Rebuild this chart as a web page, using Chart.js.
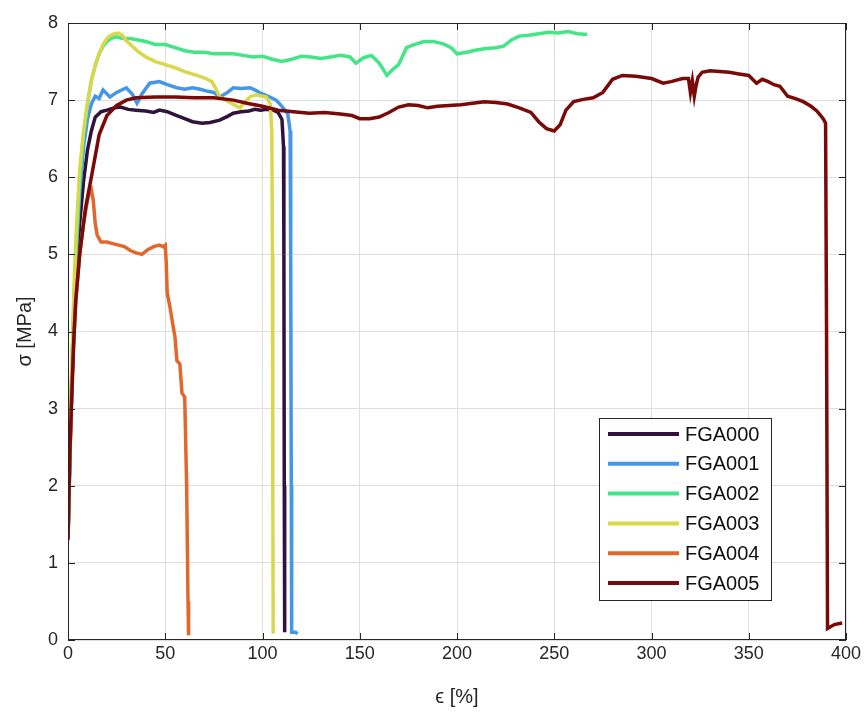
<!DOCTYPE html>
<html>
<head>
<meta charset="utf-8">
<title>FGA stress-strain</title>
<script src="https://cdn.jsdelivr.net/npm/chart.js@4.4.1/dist/chart.umd.min.js"></script>
<style>
  html, body { margin: 0; padding: 0; background: #fff; }
</style>
</head>
<body>
<canvas id="stressChart" width="867" height="713"></canvas>
<script>
// series names and colours
const seriesNames = ['FGA000', 'FGA001', 'FGA002', 'FGA003', 'FGA004', 'FGA005'];
const seriesColors = ['#30123b', '#4596e6', '#44e586', '#d9d74c', '#e2672c', '#7a0a0a'];

// strain [%] / stress [MPa]
const fga000X = [0, 1, 2, 3, 4, 6, 8, 10, 12, 14, 17, 20, 24, 27, 31, 35, 40, 44, 47, 51, 55, 60, 64, 69, 73, 78, 82, 85, 89, 93, 96, 99, 102, 105.5, 108, 110, 110.8, 111, 111.2, 111.4];
const fga000Y = [1.3, 2.4, 3.3, 4.0, 4.6, 5.4, 5.95, 6.35, 6.6, 6.78, 6.85, 6.87, 6.9, 6.91, 6.88, 6.87, 6.86, 6.84, 6.87, 6.85, 6.81, 6.76, 6.72, 6.7, 6.71, 6.74, 6.79, 6.83, 6.85, 6.86, 6.88, 6.87, 6.88, 6.87, 6.84, 6.75, 6.4, 5.0, 2.0, 0.1];

const fga001X = [0, 1, 2, 3, 4, 6, 8, 10, 12, 14, 16, 18, 21.6, 25, 30, 33, 35.5, 38, 42, 47, 51, 56, 60, 64, 68, 71, 75, 78, 82, 85, 89, 93.6, 97, 99, 103, 107, 110, 113, 114.2, 114.5, 114.8, 115, 117, 118];
const fga001Y = [1.3, 2.5, 3.5, 4.3, 4.9, 5.8, 6.4, 6.75, 6.95, 7.05, 7.02, 7.13, 7.04, 7.1, 7.16, 7.08, 6.96, 7.08, 7.22, 7.24, 7.2, 7.16, 7.14, 7.16, 7.14, 7.12, 7.1, 7.04, 7.1, 7.16, 7.15, 7.16, 7.12, 7.09, 7.05, 7.0, 6.92, 6.82, 6.6, 5.0, 2.0, 0.1, 0.1, 0.08];

const fga002X = [0, 1, 2, 3, 4, 6, 8, 10, 12, 14, 16, 18, 20, 22, 25, 28, 32, 36, 40, 45, 50, 55, 60, 65, 70, 75, 80, 85, 90, 95, 100, 105, 110, 115, 120, 125, 130, 135, 140, 145, 148, 152, 156, 160, 164, 167, 170, 174, 178, 183, 188, 193, 197, 200, 205, 210, 215, 220, 224, 228, 232, 237, 242, 247, 252, 257, 262, 267];
const fga002Y = [1.3, 2.5, 3.5, 4.3, 5.0, 5.95, 6.55, 6.95, 7.25, 7.45, 7.6, 7.7, 7.76, 7.8, 7.82, 7.8, 7.8, 7.78, 7.76, 7.72, 7.72, 7.68, 7.64, 7.62, 7.62, 7.6, 7.6, 7.6, 7.58, 7.56, 7.57, 7.53, 7.5, 7.53, 7.57, 7.56, 7.54, 7.56, 7.58, 7.56, 7.48, 7.55, 7.58, 7.48, 7.32, 7.4, 7.46, 7.68, 7.72, 7.76, 7.76, 7.73, 7.68, 7.6, 7.62, 7.65, 7.67, 7.68, 7.7, 7.78, 7.83, 7.84, 7.86, 7.88, 7.87, 7.89, 7.86, 7.85];

const fga003X = [0, 1, 2, 3, 4, 6, 8, 10, 12, 14, 16, 18, 20, 22, 24, 26, 28, 30, 33, 36, 40, 45, 50, 55, 60, 65, 70, 74, 76, 78, 81, 84, 86, 88.5, 91, 94, 97, 100, 102, 104, 104.8, 105.1, 105.3, 105.5];
const fga003Y = [1.3, 2.6, 3.6, 4.5, 5.2, 6.1, 6.6, 6.95, 7.25, 7.45, 7.6, 7.72, 7.8, 7.84, 7.86, 7.87, 7.84, 7.77, 7.7, 7.63, 7.56, 7.5, 7.46, 7.42, 7.37, 7.33, 7.29, 7.24, 7.15, 7.04, 7.0, 6.96, 6.93, 6.9, 6.98, 7.05, 7.07, 7.05, 7.04, 6.95, 6.6, 5.0, 2.0, 0.08];

const fga004X = [0, 1, 2, 3, 4, 6, 8, 10, 11, 12, 13, 14, 15, 17, 20, 23, 26, 29, 32, 35, 38, 41, 44, 47, 49, 50, 50.5, 51, 52.4, 53.5, 55, 56, 57.5, 58.6, 60, 61, 61.7, 62];
const fga004Y = [1.3, 2.4, 3.3, 3.9, 4.4, 5.0, 5.4, 5.7, 5.8, 5.84, 5.7, 5.4, 5.25, 5.16, 5.16, 5.14, 5.12, 5.1, 5.05, 5.02, 5.0, 5.06, 5.1, 5.12, 5.1, 5.12, 4.9, 4.5, 4.32, 4.15, 3.93, 3.62, 3.58, 3.2, 3.15, 2.0, 0.5, 0.06];

const fga005X = [0, 1, 2, 3, 4, 6, 9, 12, 16, 20, 25, 30, 35, 45, 55, 65, 75, 85, 92, 100, 108, 116, 124, 132, 140, 146, 150, 155, 160, 165, 170, 175, 180, 185, 190, 196, 202, 208, 214, 220, 226, 232, 238, 242, 246, 250, 253, 256, 260, 265, 270, 275, 280, 285, 292, 300, 306, 310, 316, 319, 320, 321, 322, 323, 324, 326, 330, 335, 340, 345, 350, 354, 357, 360, 363, 366, 370, 374, 378, 382, 385, 387, 388.5, 389.5, 390, 390.5, 394, 398];
const fga005Y = [1.3, 2.5, 3.2, 3.9, 4.4, 5.0, 5.6, 6.0, 6.55, 6.8, 6.93, 7.0, 7.03, 7.04, 7.04, 7.03, 7.03, 7.0, 6.96, 6.92, 6.87, 6.85, 6.83, 6.84, 6.82, 6.8, 6.76, 6.76, 6.78, 6.84, 6.91, 6.94, 6.93, 6.9, 6.92, 6.93, 6.94, 6.96, 6.98, 6.97, 6.95, 6.9, 6.84, 6.72, 6.63, 6.6, 6.68, 6.87, 6.98, 7.01, 7.03, 7.1, 7.27, 7.32, 7.31, 7.28, 7.22, 7.24, 7.28, 7.28, 7.1, 7.25, 7.05, 7.2, 7.3, 7.36, 7.38, 7.37, 7.36, 7.34, 7.32, 7.22, 7.27, 7.24, 7.2, 7.18, 7.05, 7.02, 6.98, 6.92, 6.86, 6.8, 6.75, 6.7, 4.0, 0.15, 0.2, 0.22];

// axis ticks
const xTicks = [0, 50, 100, 150, 200, 250, 300, 350, 400];
const yTicks = [0, 1, 2, 3, 4, 5, 6, 7, 8];

const allX = [fga000X, fga001X, fga002X, fga003X, fga004X, fga005X];
const allY = [fga000Y, fga001Y, fga002Y, fga003Y, fga004Y, fga005Y];

const axisColor = '#262626';
const fontFamily = '"Liberation Sans", Arial, sans-serif';

function toPoints(xs, ys) {
    return xs.map((x, i) => ({ x: x, y: ys[i] }));
}

const datasets = seriesNames.map((name, i) => ({
    label: name,
    data: toPoints(allX[i], allY[i]),
    borderColor: seriesColors[i],
    backgroundColor: seriesColors[i],
    borderWidth: 3.5,
    pointRadius: 0,
    tension: 0,
    fill: false,
    order: seriesNames.length - i // later series drawn on top
}));

// MATLAB style box, inward ticks and legend inside the axes
const frameAndLegend = {
    id: 'frameAndLegend',
    afterDatasetsDraw(chart) {
        const { ctx, chartArea: a, scales } = chart;
        ctx.save();
        ctx.strokeStyle = axisColor;
        ctx.lineWidth = 1;
        ctx.strokeRect(a.left + 0.5, a.top + 0.5, a.width - 1, a.height - 1);

        ctx.beginPath();
        xTicks.forEach(v => {
            const px = Math.round(scales.x.getPixelForValue(v)) + 0.5;
            ctx.moveTo(px, a.bottom); ctx.lineTo(px, a.bottom - 7);
            ctx.moveTo(px, a.top); ctx.lineTo(px, a.top + 7);
        });
        yTicks.forEach(v => {
            const py = Math.round(scales.y.getPixelForValue(v)) + 0.5;
            ctx.moveTo(a.left, py); ctx.lineTo(a.left + 7, py);
            ctx.moveTo(a.right, py); ctx.lineTo(a.right - 7, py);
        });
        ctx.stroke();

        // legend
        const boxLeft = a.right - 247;
        const boxTop = a.top + 395;
        const boxW = 172;
        const boxH = 182;
        ctx.fillStyle = '#ffffff';
        ctx.fillRect(boxLeft, boxTop, boxW, boxH);
        ctx.strokeRect(boxLeft + 0.5, boxTop + 0.5, boxW, boxH);
        ctx.font = '20px ' + fontFamily;
        ctx.textBaseline = 'middle';
        chart.data.datasets.forEach((ds, i) => {
            const y = boxTop + 16 + i * 29.8;
            ctx.strokeStyle = ds.borderColor;
            ctx.lineWidth = 4;
            ctx.beginPath();
            ctx.moveTo(boxLeft + 9, y);
            ctx.lineTo(boxLeft + 80, y);
            ctx.stroke();
            ctx.fillStyle = '#111111';
            ctx.fillText(ds.label, boxLeft + 86, y + 1);
        });
        ctx.restore();
    }
};

const ctx = document.getElementById('stressChart').getContext('2d');
const chart = new Chart(ctx, {
    type: 'line',
    data: { datasets: datasets },
    options: {
        responsive: false,
        animation: false,
        devicePixelRatio: 1,
        layout: { padding: { left: 0, right: 21, top: 23, bottom: 0 } },
        plugins: {
            legend: { display: false },
            tooltip: { enabled: false }
        },
        scales: {
            x: {
                type: 'linear',
                min: 0,
                max: 400,
                afterBuildTicks: scale => { scale.ticks = xTicks.map(v => ({ value: v })); },
                afterFit: scale => { scale.height = 73; },
                ticks: {
                    color: axisColor,
                    font: { family: fontFamily, size: 18 },
                    padding: 3,
                    maxRotation: 0
                },
                grid: { color: '#dedede', drawTicks: false },
                border: { display: false },
                title: {
                    display: true,
                    text: 'ϵ [%]',
                    color: axisColor,
                    font: { family: fontFamily, size: 20 },
                    padding: { top: 0, bottom: 4 }
                }
            },
            y: {
                min: 0,
                max: 8,
                afterBuildTicks: scale => { scale.ticks = yTicks.map(v => ({ value: v })); },
                afterFit: scale => { scale.width = 68; },
                ticks: {
                    color: axisColor,
                    font: { family: fontFamily, size: 18 },
                    padding: 10
                },
                grid: { color: '#dedede', drawTicks: false },
                border: { display: false },
                title: {
                    display: true,
                    text: 'σ [MPa]',
                    color: axisColor,
                    font: { family: fontFamily, size: 20 },
                    padding: { top: 13, bottom: 0 }
                }
            }
        }
    },
    plugins: [frameAndLegend]
});
</script>
</body>
</html>
